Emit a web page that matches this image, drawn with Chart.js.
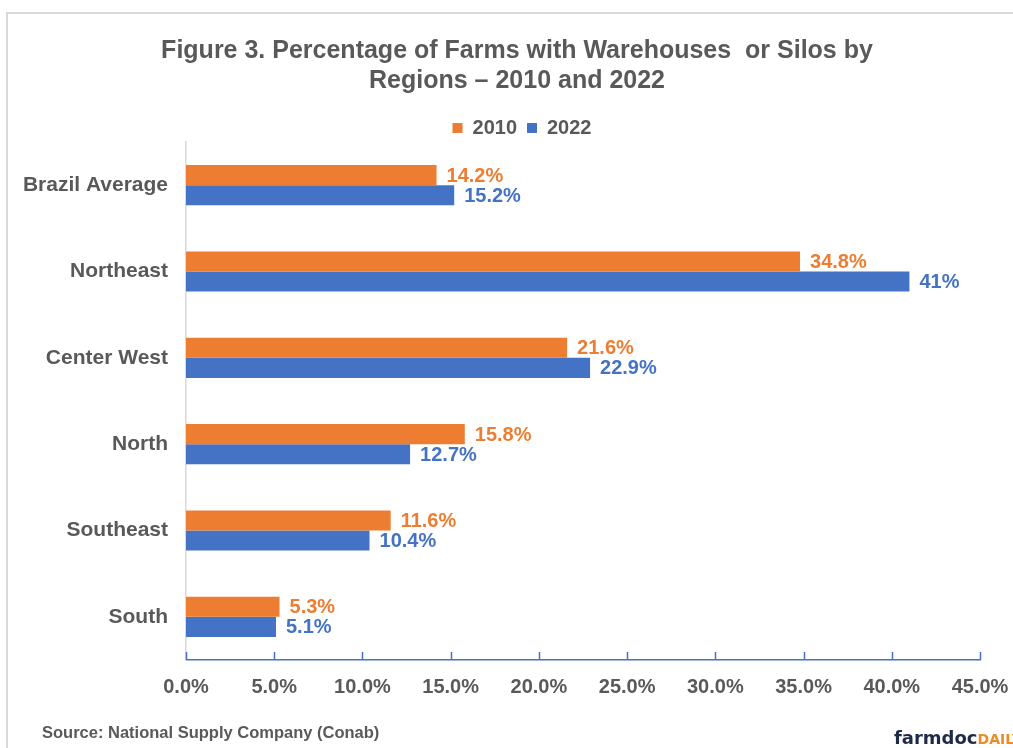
<!DOCTYPE html>
<html>
<head>
<meta charset="utf-8">
<script src="https://cdn.jsdelivr.net/npm/chart.js@4"></script>
<style>
  body { margin: 0; background: #fff; overflow: hidden; }
  .wrap { position: relative; width: 1013px; height: 748px; }
  .frame { position: absolute; left: 6px; top: 12px; width: 1100px; height: 800px;
           border-left: 2px solid #d9d9d9; border-top: 2px solid #d9d9d9; }
  .source { position: absolute; left: 42px; top: 723px; font: bold 16.5px Arial, "Liberation Sans", sans-serif; color: #595959; }
  .logo { position: absolute; left: 894px; top: 727px; line-height: 21px; white-space: nowrap; font-family: "DejaVu Sans", sans-serif; font-weight: bold; }
  .logo .f { color: #1d2a48; font-size: 18px; }
  .logo .d { color: #f08a24; font-size: 14px; }
  canvas { position: absolute; left: 0; top: 0; }
</style>
</head>
<body>
<div class="wrap">
  <div class="frame"></div>
  <canvas id="chart" width="1013" height="748"></canvas>
  <div class="source">Source: National Supply Company (Conab)</div>
  <div class="logo"><span class="f">farmdoc</span><span class="d">DAILY</span></div>
</div>
<script>
/*=============== DATA ===============*/
const regions = ['Brazil Average', 'Northeast', 'Center West', 'North', 'Southeast', 'South']
const values2010 = [14.2, 34.8, 21.6, 15.8, 11.6, 5.3]
const values2022 = [15.2, 41, 22.9, 12.7, 10.4, 5.1]
const xTicks = [0, 5, 10, 15, 20, 25, 30, 35, 40, 45]

const orange = '#ED7D31', blue = '#4472C4', grey = '#595959'
const fontFamily = 'Arial, "Liberation Sans", sans-serif'

const pct = v => Number.isInteger(v) ? v + '%' : v.toFixed(1) + '%'

/*=============== PLUGINS ===============*/
// value labels at the end of each bar
const barLabels = {
  id: 'barLabels',
  afterDatasetsDraw(chart){
    const ctx = chart.ctx
    ctx.save()
    ctx.font = 'bold 20px ' + fontFamily
    ctx.textAlign = 'left'
    ctx.textBaseline = 'middle'
    chart.data.datasets.forEach((ds, i) => {
      ctx.fillStyle = ds.backgroundColor
      chart.getDatasetMeta(i).data.forEach((bar, j) => {
        ctx.fillText(pct(ds.data[j]), bar.x + 10, bar.y + 1)
      })
    })
    ctx.restore()
  }
}

// small tick marks pointing up from the x axis
const upTicks = {
  id: 'upTicks',
  afterDraw(chart){
    const ctx = chart.ctx, x = chart.scales.x, y0 = chart.chartArea.bottom
    ctx.save()
    ctx.strokeStyle = blue
    ctx.lineWidth = 1.5
    ctx.beginPath()
    xTicks.forEach(t => {
      const px = Math.round(x.getPixelForValue(t)) + 0.5
      ctx.moveTo(px, y0)
      ctx.lineTo(px, y0 - 8)
    })
    ctx.stroke()
    ctx.restore()
  }
}

// title and legend sit a little right of the plot centre, legend a bit lower
const nudgeHeader = {
  id: 'nudgeHeader',
  afterLayout(chart){
    const t = chart.titleBlock, l = chart.legend
    t.left += 19; t.right += 19
    l.left += 24; l.right += 24
    l.top += 6; l.bottom += 6
  }
}

/*=============== CHART ===============*/
const ctxFarms = document.getElementById('chart').getContext('2d')
new Chart(ctxFarms, {
  type: 'bar',
  data: {
    labels: regions,
    datasets: [
      { label: '2010', data: values2010, backgroundColor: orange, categoryPercentage: 0.465, barPercentage: 1 },
      { label: '2022', data: values2022, backgroundColor: blue, categoryPercentage: 0.465, barPercentage: 1 }
    ]
  },
  options: {
    indexAxis: 'y',
    responsive: false,
    animation: false,
    layout: { padding: { left: 16, right: 33, top: 18, bottom: 34 } },
    plugins: {
      title: {
        display: true,
        text: ['Figure 3. Percentage of Farms with Warehouses  or Silos by', 'Regions \u2013 2010 and 2022'],
        color: grey,
        font: { family: fontFamily, size: 25, weight: 'bold', lineHeight: 1.2 },
        padding: { top: 18, bottom: 6 }
      },
      legend: {
        position: 'top',
        labels: {
          color: grey,
          boxWidth: 10,
          boxHeight: 10,
          padding: 10,
          font: { family: fontFamily, size: 20, weight: 'bold' }
        }
      },
      tooltip: { enabled: false }
    },
    scales: {
      x: {
        min: 0,
        max: 45,
        afterBuildTicks: s => { s.ticks = xTicks.map(v => ({ value: v })) },
        afterFit: s => { s.paddingRight = 33 },
        grid: { display: false, drawTicks: false },
        border: { display: true, color: blue, width: 1.5 },
        ticks: {
          color: grey,
          padding: 15,
          font: { family: fontFamily, size: 20, weight: 'bold' },
          callback: v => v.toFixed(1) + '%'
        }
      },
      y: {
        afterFit: s => { s.width = 170 },
        grid: { display: false, drawTicks: false },
        border: { display: true, color: '#d9d9d9', width: 1.5 },
        ticks: {
          color: grey,
          padding: 18,
          font: { family: fontFamily, size: 21, weight: 'bold' }
        }
      }
    }
  },
  plugins: [barLabels, upTicks, nudgeHeader]
})
</script>
</body>
</html>
